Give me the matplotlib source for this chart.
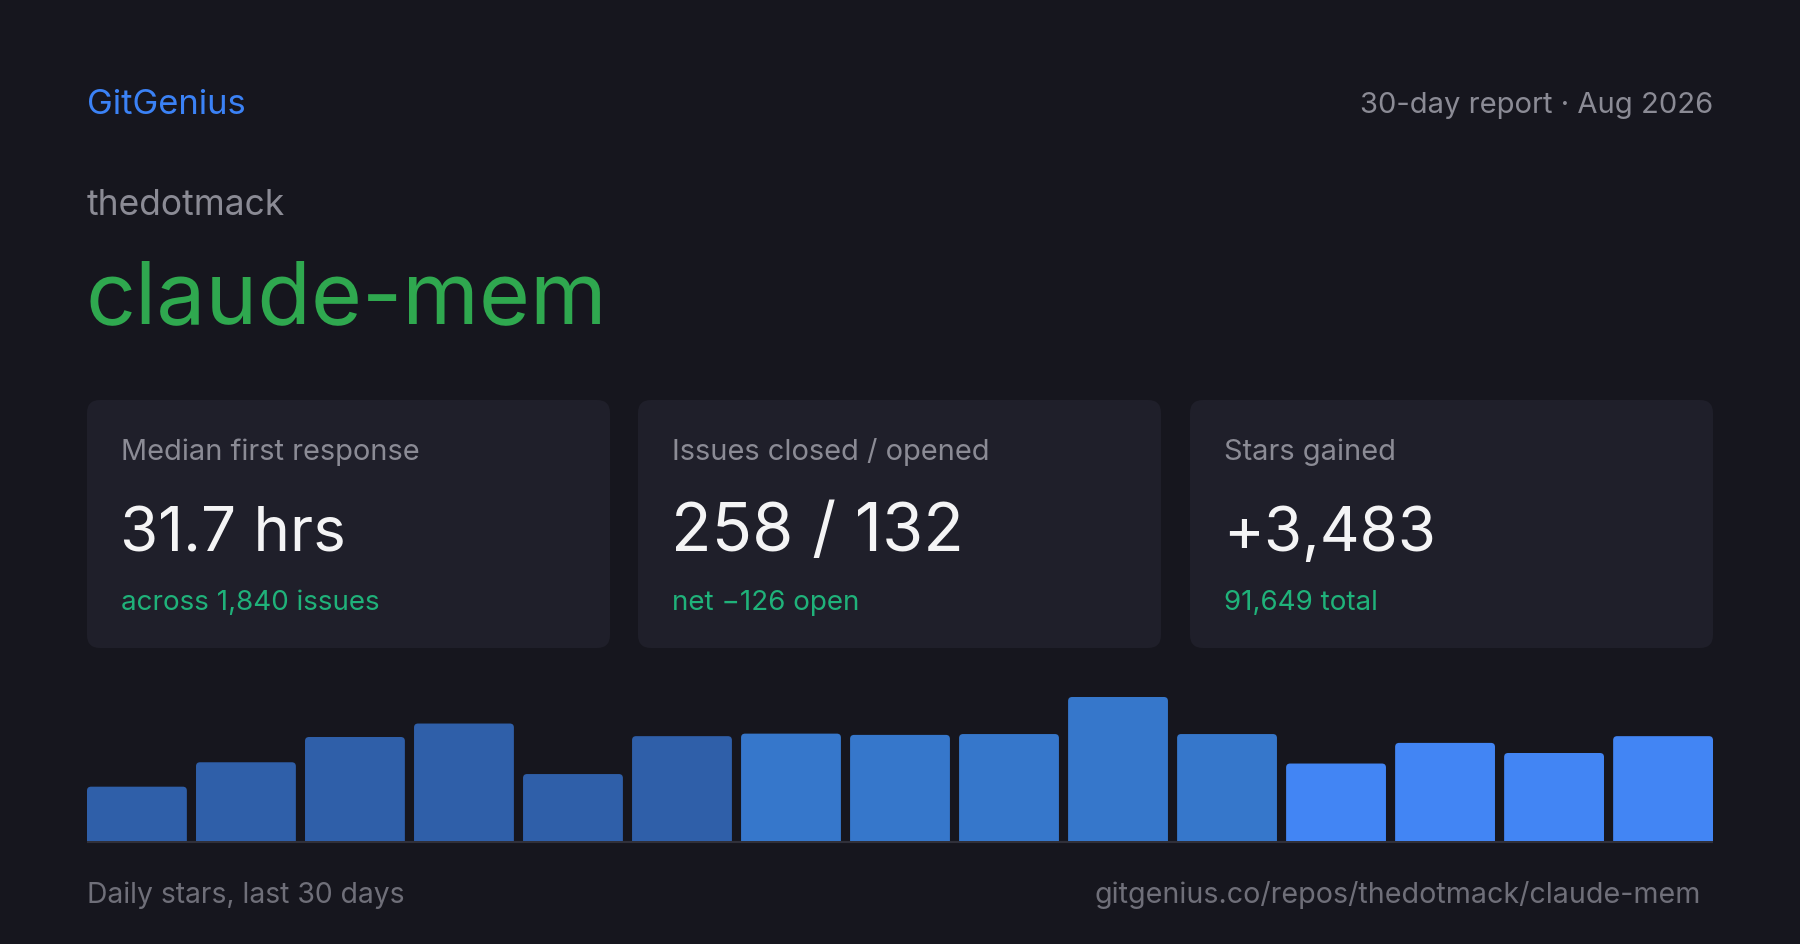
import matplotlib
matplotlib.use("Agg")
import matplotlib.pyplot as plt
from matplotlib.patches import FancyBboxPatch

# --- Dados ---
repo_owner = "thedotmack"
repo_name = "claude-mem"
report_label = "30-day report · Aug 2026"
card_titles = ["Median first response", "Issues closed / opened", "Stars gained"]
card_values = ["31.7 hrs", "258 / 132", "+3,483"]
card_notes = ["across 1,840 issues", "net \u2212126 open", "91,649 total"]
daily_stars = [129, 187, 247, 279, 159, 249, 255, 252, 254, 342, 254, 184, 233, 209, 249]
bar_groups = [0, 0, 0, 0, 0, 0, 1, 1, 1, 1, 1, 2, 2, 2, 2]

# --- Estilo ---
BG = "#16161e"
CARD = "#1f1f2a"
GRAY = "#8b8b95"
DIM = "#6f6f79"
WHITE = "#f4f4f5"
GREEN_NOTE = "#1fb27a"
GREEN_TITLE = "#2fa84f"
BLUE = "#3b82f6"
BAR_COLORS = ["#2f5fa9", "#3677cb", "#4285f4"]
W, H, DPI = 1800, 945, 100

plt.rcParams["font.family"] = ["Inter", "DejaVu Sans"]

fig = plt.figure(figsize=(W / DPI, H / DPI), dpi=DPI, facecolor=BG)

# camada de fundo em pixels (texto e cartões)
ov = fig.add_axes([0, 0, 1, 1])
ov.set_xlim(0, W)
ov.set_ylim(H, 0)
ov.axis("off")

ov.text(87, 114, "GitGenius", color=BLUE, fontsize=24.9, va="baseline")
ov.text(1713, 113, report_label, color=GRAY, fontsize=21, va="baseline", ha="right")
ov.text(87, 215, repo_owner, color=GRAY, fontsize=25.5, va="baseline")
ov.text(85, 323, repo_name, color=GREEN_TITLE, fontsize=63, va="baseline")

card_w = 523
card_x = [87, 638, 1190]
value_sizes = [44.5, 48, 44.5]
for i in range(3):
    x0 = card_x[i]
    box = FancyBboxPatch((x0, 401), card_w, 248,
                         boxstyle="round,pad=0,rounding_size=13",
                         facecolor=CARD, edgecolor="none")
    ov.add_patch(box)
    ov.text(x0 + 34, 460, card_titles[i], color=GRAY, fontsize=20.9, va="baseline")
    ov.text(x0 + 33, 551, card_values[i], color=WHITE, fontsize=value_sizes[i], va="baseline")
    ov.text(x0 + 34, 610, card_notes[i], color=GREEN_NOTE, fontsize=20, va="baseline")

# linha de base do gráfico
ov.plot([87, 1713], [843, 843], color="#30303a", lw=1.5, solid_capstyle="butt")

ov.text(87, 903, "Daily stars, last 30 days", color=DIM, fontsize=20.4, va="baseline")
ov.text(1701, 903, "gitgenius.co/repos/thedotmack/claude-mem", color=DIM,
        fontsize=20.6, va="baseline", ha="right")

# --- Gráfico de barras ---
ax_left, ax_right = 87, 1713
ax_bottom, ax_h = 842, 160
ax = fig.add_axes([ax_left / W, (H - ax_bottom) / H, (ax_right - ax_left) / W, ax_h / H])
ax.set_facecolor("none")
ax.axis("off")

n = len(daily_stars)
bar_w = 0.916
ymax = max(daily_stars) * ax_h / 144
ax.set_xlim(-bar_w / 2, n - 1 + bar_w / 2)
ax.set_ylim(0, ymax)

px_per_x = (ax_right - ax_left) / (n - 1 + bar_w)
px_per_y = ax_h / ymax
radius_px = 4
r_x = radius_px / px_per_x
aspect = px_per_x / px_per_y

for i, v in enumerate(daily_stars):
    ext = radius_px / px_per_y
    patch = FancyBboxPatch((i - bar_w / 2, -ext), bar_w, v + ext,
                           boxstyle=f"round,pad=0,rounding_size={r_x}",
                           mutation_aspect=aspect,
                           facecolor=BAR_COLORS[bar_groups[i]], edgecolor="none")
    ax.add_patch(patch)

fig.savefig("out.png", dpi=DPI, facecolor=BG)
